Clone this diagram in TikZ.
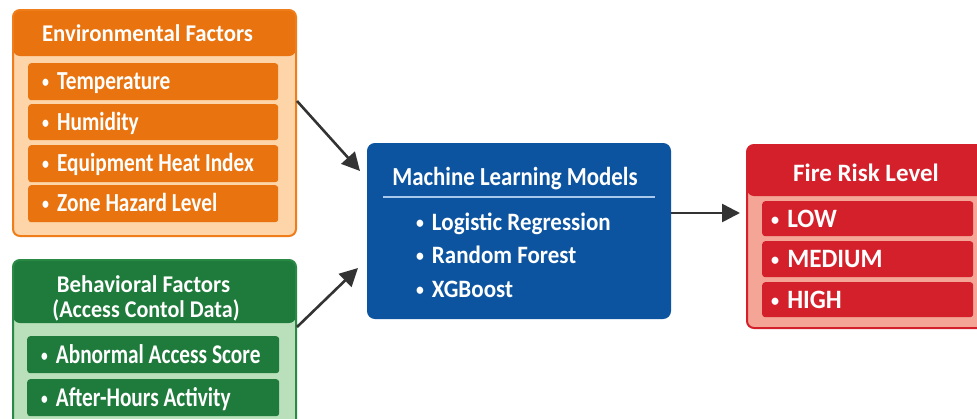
\documentclass[tikz,border=0pt]{standalone}
\usepackage{fontspec}
\setmainfont{Carlito}
% condensed cuts of the same family for the different blocks
\newfontfamily\fTitle{Carlito}[FakeStretch=0.95]
\newfontfamily\fOrange{Carlito}[FakeStretch=0.82]
\newfontfamily\fGreen{Carlito}[FakeStretch=0.79]
\newfontfamily\fBlueHead{Carlito}[FakeStretch=0.88]
\newfontfamily\fBlue{Carlito}[FakeStretch=0.92]
\newfontfamily\fRed{Carlito}[FakeStretch=0.95]
\usetikzlibrary{arrows.meta}

\definecolor{orHead}{HTML}{E8730F}
\definecolor{orLight}{HTML}{FDD5A8}
\definecolor{orEdge}{HTML}{EF7D1A}
\definecolor{grHead}{HTML}{1E7B3B}
\definecolor{grLight}{HTML}{B9E0BA}
\definecolor{grEdge}{HTML}{2A8A45}
\definecolor{blHead}{HTML}{0D54A0}
\definecolor{blRule}{HTML}{A8C8EC}
\definecolor{rdHead}{HTML}{D4202B}
\definecolor{rdLight}{HTML}{F4A596}
\definecolor{arrowGray}{HTML}{333333}

% small list bullet
\newcommand{\lbul}{{\fontsize{17}{17}\selectfont\raisebox{2pt}{•}}\hspace{8pt}}

\tikzset{
  panel/.style={anchor=north west, inner sep=0pt, line width=2pt,
    rounded corners=7pt},
  headband/.style 2 args={path picture={
    \fill[#1] (path picture bounding box.north west) rectangle
      ([yshift=-#2]path picture bounding box.north east);}},
  titletext/.style={anchor=base, text=white, inner sep=0pt},
  itembox/.style={anchor=north west, rounded corners=3pt, inner xsep=14pt,
    inner ysep=0pt, align=flush left, text=white, text depth=0pt},
  mlitem/.style={anchor=base west, text=white, inner sep=0pt,
    font=\bfseries\fBlue\fontsize{25}{27}\selectfont},
  conn/.style={draw=arrowGray, line width=2.6pt,
    -{Triangle[length=18pt,width=18pt]}},
  oritem/.style={itembox, fill=orHead, text width=222pt, text height=16pt,
    font=\bfseries\fOrange\fontsize{26}{28}\selectfont},
  gritem/.style={itembox, fill=grHead, text width=224pt, text height=17pt,
    font=\bfseries\fGreen\fontsize{27}{29}\selectfont},
  rditem/.style={itembox, fill=rdHead, inner xsep=9pt, text width=193pt,
    text height=17pt, font=\bfseries\fRed\fontsize{26.5}{28}\selectfont},
}

\begin{document}
\begin{tikzpicture}[x=1pt,y=-1pt]
\clip (0,0) rectangle (977,418);
\fill[white] (0,0) rectangle (977,418);

% Environmental factors
\node[panel, draw=orEdge, fill=orLight, headband={orHead}{46pt},
  minimum width=283pt, minimum height=226pt] (env) at (12,9) {};
\node[titletext, font=\bfseries\fTitle\fontsize{24}{26}\selectfont] (envT) at (147.5,41) {Environmental Factors};
\node[oritem, minimum height=37pt] (envA) at (28,63) {\lbul Temperature};
\node[oritem, minimum height=36pt] (envB) at (28,104) {\lbul Humidity};
\node[oritem, minimum height=37pt] (envC) at (28,145) {\lbul Equipment Heat Index};
\node[oritem, minimum height=37pt] (envD) at (28,185) {\lbul Zone Hazard Level};

% Behavioral factors
\node[panel, draw=grEdge, fill=grLight, headband={grHead}{63pt},
  minimum width=283pt, minimum height=200pt] (beh) at (12,259) {};
\node[titletext, font=\bfseries\fTitle\fontsize{24}{26}\selectfont] (behT) at (143.5,292) {Behavioral Factors};
\node[titletext, font=\bfseries\fBlue\fontsize{24}{26}\selectfont] (behS) at (146,317) {(Access Contol Data)};
\node[gritem, minimum height=37pt] (behA) at (27,336) {\lbul Abnormal Access Score};
\node[gritem, minimum height=37pt] (behB) at (27,379) {\lbul After-Hours Activity};

% Machine learning models
\node[panel, draw=blHead, fill=blHead,
  minimum width=302pt, minimum height=174pt] (ml) at (367,143) {};
\node[titletext, font=\bfseries\fBlueHead\fontsize{26}{28}\selectfont] (mlT) at (515,185) {Machine Learning Models};
\draw[blRule, line width=2.2pt] ([xshift=16pt]ml.west |- 0,197) -- ([xshift=-16pt]ml.east |- 0,197);
\node[mlitem] (mlA) at (416,230) {\lbul Logistic Regression};
\node[mlitem] (mlB) at (416,263.5) {\lbul Random Forest};
\node[mlitem] (mlC) at (416,297) {\lbul XGBoost};

% Fire risk level
\node[panel, draw=rdHead, fill=rdLight, headband={rdHead}{51pt},
  minimum width=240pt, minimum height=183pt] (risk) at (746,144) {};
\node[titletext, font=\bfseries\fontsize{25}{27}\selectfont] (riskT) at (866,181) {Fire Risk Level};
\node[rditem, minimum height=35pt] (riskA) at (762,201) {\lbul LOW};
\node[rditem, minimum height=36pt] (riskB) at (762,241) {\lbul MEDIUM};
\node[rditem, minimum height=35pt] (riskC) at (762,282) {\lbul HIGH};

% Connectors
\draw[conn] ([yshift=22pt]env.east) -- ([xshift=-7pt,yshift=60pt]ml.west);
\draw[conn] ([yshift=33pt]beh.east) -- ([xshift=-9pt,yshift=-37pt]ml.west);
\draw[conn] ([yshift=18pt]ml.east) -- ([xshift=-6pt,yshift=23.5pt]risk.west);
\end{tikzpicture}
\end{document}
